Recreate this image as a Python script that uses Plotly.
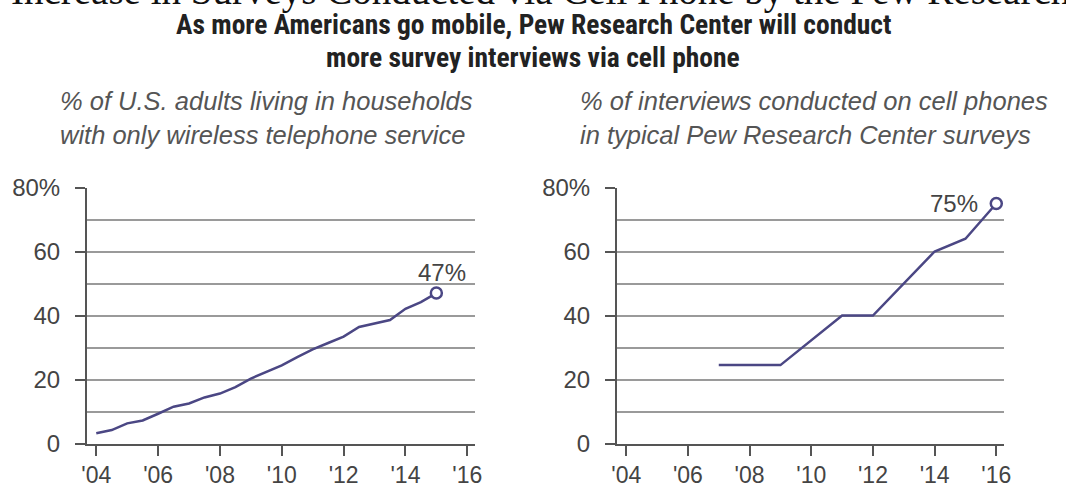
import plotly.graph_objects as go

# Share of U.S. adults in wireless-only households (semiannual readings)
wireless_years = [2004.0, 2004.5, 2005.0, 2005.5, 2006.0, 2006.5, 2007.0, 2007.5,
                  2008.0, 2008.5, 2009.0, 2009.5, 2010.0, 2010.5, 2011.0, 2011.5,
                  2012.0, 2012.5, 2013.0, 2013.5, 2014.0, 2014.5, 2015.0]
wireless_share = [3.2, 4.2, 6.3, 7.2, 9.3, 11.5, 12.5, 14.4,
                  15.6, 17.6, 20.3, 22.3, 24.4, 27.0, 29.4, 31.4,
                  33.4, 36.4, 37.4, 38.6, 42.1, 44.2, 47]

# Share of interviews conducted on cell phones in typical Pew surveys
cell_years = [2007, 2009, 2011, 2012, 2014, 2015, 2016]
cell_share = [24.5, 24.5, 40, 40, 60, 64, 75]

x_tick_vals = [2004, 2006, 2008, 2010, 2012, 2014, 2016]
x_tick_text = ["'04", "'06", "'08", "'10", "'12", "'14", "'16"]
y_tick_vals = [0, 20, 40, 60, 80]
y_tick_text = ["0", "20", "40", "60", "80%"]

W, H = 1066, 489
LINE = "#4b4784"
AXIS = "#555555"
GRID = "#9a9a9a"
TXT = "#444444"
SANS = "Liberation Sans, Arial, sans-serif"
NARROW = "Liberation Sans Narrow, Arial Narrow, Roboto Condensed, Liberation Sans, sans-serif"


def px(x, y):
    return x / W, 1 - y / H


fig = go.Figure()

panels = [
    (wireless_years, wireless_share, "x", "y"),
    (cell_years, cell_share, "x2", "y2"),
]
for xs, ys, xa, ya in panels:
    fig.add_trace(go.Scatter(x=xs, y=ys, mode="lines", xaxis=xa, yaxis=ya,
                             line=dict(color=LINE, width=2.5), hoverinfo="skip",
                             showlegend=False))
    fig.add_trace(go.Scatter(x=[xs[-1]], y=[ys[-1]], mode="markers", xaxis=xa, yaxis=ya,
                             marker=dict(symbol="circle", size=11, color="white",
                                         line=dict(color=LINE, width=2.5)),
                             hoverinfo="skip", showlegend=False))

y_top, y_bot = 187.5, 443.5
ydom = [1 - y_bot / H, 1 - y_top / H]

xaxis_common = dict(range=[2003.7, 2016.25], tickvals=x_tick_vals, ticktext=x_tick_text,
                    showgrid=False, zeroline=False, showline=True, linecolor=AXIS,
                    linewidth=2, ticks="outside", ticklen=10, tickwidth=2,
                    tickcolor=AXIS, ticklabelstandoff=0, automargin=False,
                    tickfont=dict(family=SANS, size=23, color=TXT),
                    fixedrange=True)
yaxis_common = dict(range=[0, 80], tickvals=y_tick_vals, ticktext=y_tick_text,
                    showgrid=True, gridcolor=GRID, gridwidth=1.6, zeroline=False,
                    showline=True, linecolor=AXIS, linewidth=2, ticks="outside",
                    ticklen=10, tickwidth=2, tickcolor=AXIS, ticklabelstandoff=10,
                    automargin=False,
                    tickfont=dict(family=SANS, size=24, color=TXT),
                    minor=dict(dtick=10, tick0=0, showgrid=True, gridcolor=GRID,
                               gridwidth=1.6, ticks=""),
                    domain=ydom, fixedrange=True)

fig.update_layout(
    width=W, height=H, autosize=False,
    margin=dict(l=0, r=0, t=0, b=0, pad=0),
    paper_bgcolor="white", plot_bgcolor="white",
    xaxis=dict(domain=[87 / W, 475 / W], anchor="y", **xaxis_common),
    yaxis=dict(anchor="x", **yaxis_common),
    xaxis2=dict(domain=[617 / W, 1004 / W], anchor="y2", **xaxis_common),
    yaxis2=dict(anchor="x2", **yaxis_common),
)

annotations = []

# Headline, partly above the top edge
hx, hy = px(9, -9)
annotations.append(dict(text="Increase in Surveys Conducted via Cell Phone by the Pew Research Center",
                        x=hx, y=hy, xref="paper", yref="paper", xanchor="left",
                        yanchor="middle", showarrow=False,
                        font=dict(family="Liberation Serif, Times New Roman, serif",
                                  size=39, color="#111111")))

for text, ypix in [("As more Americans go mobile, Pew Research Center will conduct", 24.5),
                   ("more survey interviews via cell phone", 57.5)]:
    ax_, ay_ = px(533, ypix)
    annotations.append(dict(text=f"<b>{text}</b>", x=ax_, y=ay_, xref="paper", yref="paper",
                            xanchor="center", yanchor="middle", showarrow=False,
                            font=dict(family=NARROW, size=27.5, color="#222222")))

panel_titles = [
    (58, ["% of U.S. adults living in households", "with only wireless telephone service"]),
    (578, ["% of interviews conducted on cell phones", "in typical Pew Research Center surveys"]),
]
for xpix, lines in panel_titles:
    for line, ypix in zip(lines, [101, 134.5]):
        ax_, ay_ = px(xpix, ypix)
        annotations.append(dict(text=f"<i>{line}</i>", x=ax_, y=ay_, xref="paper",
                                yref="paper", xanchor="left", yanchor="middle",
                                showarrow=False,
                                font=dict(family=SANS, size=25.5, color="#555555")))

# End-point value labels
annotations.append(dict(text=f"{wireless_share[-1]:g}%", x=wireless_years[-1],
                        y=wireless_share[-1], xref="x", yref="y", xanchor="center",
                        yanchor="middle", xshift=6, yshift=21, showarrow=False,
                        font=dict(family=SANS, size=24, color=TXT)))
annotations.append(dict(text=f"{cell_share[-1]:g}%", x=cell_years[-1], y=cell_share[-1],
                        xref="x2", yref="y2", xanchor="right", yanchor="middle",
                        xshift=-16, yshift=0, showarrow=False,
                        font=dict(family=SANS, size=24, color=TXT)))

fig.update_layout(annotations=annotations)

fig.write_html("out.html")
